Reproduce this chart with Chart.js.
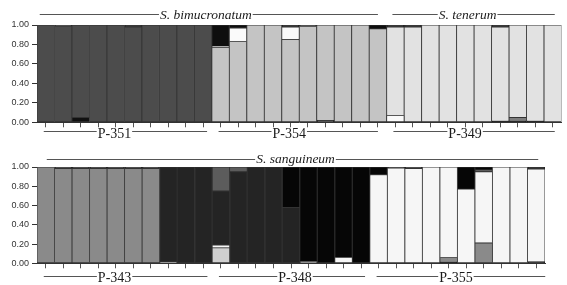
<!DOCTYPE html>
<html><head><meta charset="utf-8">
<script src="https://cdn.jsdelivr.net/npm/chart.js@4.4.1/dist/chart.umd.min.js"></script>
<style>
html,body{margin:0;padding:0;background:#fff;}
#wrap{position:relative;width:567px;height:285px;overflow:hidden;background:#fff;}
canvas{position:absolute;left:0;}
</style></head><body>
<div id="wrap">
<canvas id="c1" width="567" height="145" style="top:0px"></canvas>
<canvas id="c2" width="567" height="140" style="top:145px"></canvas>
</div>
<script>
// ---------- DATA ----------
const yTicks = [0, 0.2, 0.4, 0.6, 0.8, 1.0];

// Top panel
const topPops = ["P-351", "P-354", "P-349"];
const topPopSizes = [10, 10, 10];
const topSpecies = ["S. bimucronatum", "S. tenerum"];
const topSpeciesSizes = [20, 10];

// membership proportions per individual, layers listed bottom -> top
const topBlackLow  = [0,0,0.05,0,0,0,0,0,0,0, 0,0,0,0,0,0,0.02,0,0,0, 0,0,0,0,0,0,0.01,0.01,0.01,0];
const topMedGrey   = [0,0,0,0,0,0,0,0,0,0, 0,0,0,0,0,0,0,0,0,0, 0,0,0,0,0,0,0,0.04,0,0];
const topWhiteLow  = [0,0,0,0,0,0,0,0,0,0, 0,0,0,0,0,0,0,0,0,0, 0.07,0,0,0,0,0,0,0,0,0];
const topDarkGrey  = [1,0.99,0.95,1,1,0.98,1,1,1,1, 0,0,0,0,0,0,0,0,0,0, 0,0,0,0,0,0,0,0,0,0];
const topLightGrey = [0,0,0,0,0,0,0,0,0,0, 0.77,0.83,1,1,0.85,0.985,0.98,1,1,0.96, 0,0,0,0,0,0,0,0,0,0];
const topPale      = [0,0,0,0,0,0,0,0,0,0, 0,0,0,0,0,0,0,0,0,0, 0.91,0.98,1,1,1,1,0.97,0.95,0.99,1];
const topWhiteHigh = [0,0,0,0,0,0,0,0,0,0, 0.01,0.14,0,0,0.13,0,0,0,0,0, 0,0,0,0,0,0,0,0,0,0];
const topBlackHigh = [0,0.01,0,0,0,0.02,0,0,0,0, 0.22,0.03,0,0,0.02,0.015,0,0,0,0.04, 0.02,0.02,0,0,0,0,0.02,0,0,0];

// Bottom panel
const botPops = ["P-343", "P-348", "P-355"];
const botPopSizes = [10, 9, 10];
const botSpecies = ["S. sanguineum"];
const botSpeciesSizes = [29];

const botBlackLow  = [0,0,0,0,0,0,0,0,0,0, 0,0,0,0,0,0,0,0,0, 0,0,0,0,0.01,0,0,0,0,0.015];
const botMedGrey   = [1,0.985,0.985,0.985,0.985,0.985,0.985,0.015,0,0, 0,0,0,0,0,0.02,0,0,0, 0,0,0,0,0.05,0,0.21,0,0,0];
const botLightGrey = [0,0,0,0,0,0,0,0,0,0, 0.16,0,0,0,0,0,0,0,0, 0,0,0,0,0,0,0,0,0,0];
const botWhite     = [0,0,0,0,0,0,0,0,0,0, 0.03,0,0,0,0,0,0,0.06,0, 0.92,0.99,0.985,1,0.94,0.77,0.74,1,1,0.965];
const botDark      = [0,0,0,0,0,0,0,0.985,1,1, 0.56,0.95,1,1,0.58,0,0,0,0, 0,0,0,0,0,0,0,0,0,0];
const botGrey55    = [0,0,0,0,0,0,0,0,0,0, 0.25,0.05,0,0,0,0,0,0,0, 0,0,0,0,0,0,0.02,0,0,0];
const botBlack     = [0,0.015,0.015,0.015,0.015,0.015,0.015,0,0,0, 0,0,0,0,0.42,0.98,1,0.94,1, 0.08,0.01,0.015,0,0,0.23,0.03,0,0,0.02];

// ---------- BUILD ----------
function labelsFor(pops, sizes){
  const out=[];
  pops.forEach((p,i)=>{ for(let k=1;k<=sizes[i];k++) out.push(p+"-"+k); });
  return out;
}
function ds(name, arr, color){
  return {label:name, data:arr.map(v=>v===0?null:v), backgroundColor:color,
    borderColor:'#333', borderWidth:0.8, borderSkipped:false,
    barPercentage:1, categoryPercentage:1};
}

const groupPlugin = {
  id:'groups',
  afterDraw(chart, args, o){
    const ctx = chart.ctx, xs = chart.scales.x;
    const draw = (g) => {
      let start = 0;
      g.names.forEach((name,i)=>{
        const end = start + g.sizes[i] - 1;
        const x1 = xs.getPixelForValue(start) - g.padL[i];
        const x2 = xs.getPixelForValue(end) + g.padR[i];
        ctx.save();
        ctx.font = g.font;
        const w = ctx.measureText(name).width;
        const cx = (x1+x2)/2 + g.shift[i];
        ctx.strokeStyle = '#555'; ctx.lineWidth = 1;
        ctx.beginPath();
        ctx.moveTo(x1, g.lineY); ctx.lineTo(cx - w/2 - 1, g.lineY);
        ctx.moveTo(cx + w/2 + 1, g.lineY); ctx.lineTo(x2, g.lineY);
        ctx.stroke();
        ctx.fillStyle = '#1a1a1a'; ctx.textAlign = 'center'; ctx.textBaseline = 'alphabetic';
        ctx.fillText(name, cx, g.baseY);
        ctx.restore();
        start = end + 1;
      });
    };
    o.groups.forEach(draw);
  }
};

function makeChart(id, labels, datasets, padding, groups){
  return new Chart(document.getElementById(id), {
    type:'bar',
    data:{labels, datasets},
    options:{
      responsive:false, animation:false, devicePixelRatio:1,
      layout:{padding},
      plugins:{legend:{display:false}, tooltip:{enabled:false}, groups:{groups}},
      scales:{
        x:{stacked:true, offset:true,
           afterFit:s=>{s.height=8;},
           ticks:{display:false},
           grid:{offset:false, drawOnChartArea:false, tickLength:5, color:'#555', lineWidth:1},
           border:{color:'#333', width:1}},
        y:{stacked:true, min:0, max:1,
           afterFit:s=>{s.width=37;},
           afterBuildTicks:s=>{ s.ticks = yTicks.map(v=>({value:v})); },
           ticks:{callback:v=>Number(v).toFixed(2), color:'#333', padding:3,
                  font:{family:'"Liberation Sans", Arial, sans-serif', size:9}},
           grid:{drawOnChartArea:false, tickLength:5, color:'#333'},
           border:{color:'#333', width:1}}
      }
    },
    plugins:[groupPlugin]
  });
}

const serif = '"Liberation Serif", "Times New Roman", serif';

makeChart('c1', labelsFor(topPops, topPopSizes), [
  ds('K-black (low)', topBlackLow, '#111111'),
  ds('K-mid grey', topMedGrey, '#7d7d7d'),
  ds('K-white (low)', topWhiteLow, '#fafafa'),
  ds('K-dark grey', topDarkGrey, '#4c4c4c'),
  ds('K-light grey', topLightGrey, '#c4c4c4'),
  ds('K-pale', topPale, '#e2e2e2'),
  ds('K-white', topWhiteHigh, '#fafafa'),
  ds('K-black', topBlackHigh, '#0e0e0e')
], {left:0, top:25, right:5.5, bottom:14.7}, [
  {names:topSpecies, sizes:topSpeciesSizes, lineY:14.5, baseY:18.5, font:'italic 13.5px '+serif,
   padL:[6,3], padR:[0,2], shift:[-3,-6]},
  {names:topPops, sizes:topPopSizes, lineY:131.5, baseY:137.5, font:'14px '+serif,
   padL:[2,2,2], padR:[4,0,2], shift:[-11,-9,-9]}
]);

makeChart('c2', labelsFor(botPops, botPopSizes), [
  ds('K-black (low)', botBlackLow, '#111111'),
  ds('K-mid grey', botMedGrey, '#8a8a8a'),
  ds('K-light grey', botLightGrey, '#cfcfcf'),
  ds('K-white', botWhite, '#f6f6f6'),
  ds('K-dark', botDark, '#242424'),
  ds('K-grey', botGrey55, '#5c5c5c'),
  ds('K-black', botBlack, '#060606')
], {left:0, top:22, right:22, bottom:13.7}, [
  {names:botSpecies, sizes:botSpeciesSizes, lineY:14.5, baseY:17.5, font:'italic 13.5px '+serif,
   padL:[-1], padR:[2], shift:[3]},
  {names:botPops, sizes:botPopSizes, lineY:131.5, baseY:137, font:'14px '+serif,
   padL:[2,2,2], padR:[4,4,9], shift:[-11,3,-5]}
]);
</script>
</body></html>
